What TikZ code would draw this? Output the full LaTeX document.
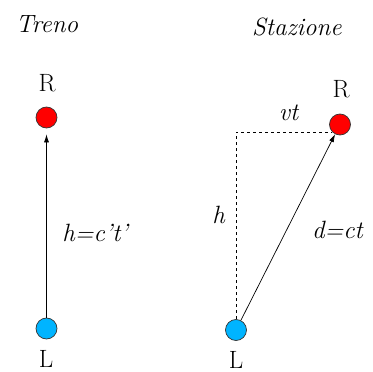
\documentclass[tikz,border=0pt]{standalone}
\usepackage{fontspec}
\usepackage{tikz}
\usetikzlibrary{arrows.meta, positioning}
\definecolor{ballR}{RGB}{255,0,0}
\definecolor{ballL}{RGB}{0,180,255}

\begin{document}
\begin{tikzpicture}[x=1pt, y={(0,-1pt)}, font=\fontsize{25}{30}\selectfont,
  ball/.style={draw=black!80, circle, minimum size=21pt, inner sep=0pt, line width=0.7pt},
  lbl/.style={anchor=base, inner sep=0pt},
  p/.style={-{Latex[length=8pt, width=5pt]}, line width=0.7pt}]
\useasboundingbox (0,0) rectangle (373,372);
% treno
\node[lbl] (treno) at (47,33) {\textit{Treno}};
\node[ball, fill=ballR] (rA) at (46.5,117.5) {};
\node[ball, fill=ballL] (lA) at (46.5,328.5) {};
\node[lbl] (rAtxt) at (47,92) {R};
\node[lbl] (lAtxt) at (46,367) {L};
\draw[p, shorten >=6pt] (lA) -- (rA);
\node[lbl] (hA) at (96,241) {\textit{h=c't'}};
% stazione
\node[lbl] (staz) at (297,35) {\textit{Stazione}};
\node[ball, fill=ballR] (rB) at (340,124.5) {};
\node[ball, fill=ballL] (lB) at (236,330) {};
\node[lbl] (rBtxt) at (341,97) {R};
\node[lbl] (lBtxt) at (236,368) {L};
\draw[dashed, line width=0.7pt] (lB) |- (rB.south west);
\draw[p] (lB) -- (rB);
\node[lbl] (vt) at (289,120) {\textit{vt}};
\node[lbl] (hB) at (219,223) {\textit{h}};
\node[lbl] (dB) at (338,238) {\textit{d=ct}};
\end{tikzpicture}
\end{document}
